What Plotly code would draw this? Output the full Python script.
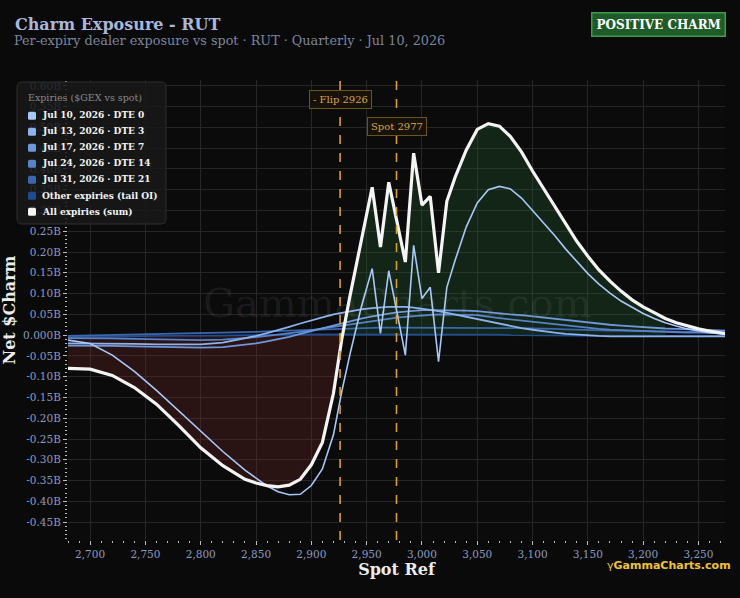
import numpy as np
import plotly.graph_objects as go

# ---------------- data ----------------
SPOT_GRID = [2680, 2700, 2720, 2740, 2760, 2780, 2800, 2820, 2840,
             2850, 2860, 2870, 2880, 2890, 2900, 2910, 2920,
             2927.5, 2935, 2945, 2955, 2962.5, 2970, 2977.5, 2985, 2992.5, 3000, 3007.5, 3015, 3022.5,
             3030, 3040, 3050, 3060, 3070, 3080, 3090, 3100,
             3110, 3120, 3130, 3140, 3150, 3160, 3170, 3180, 3190, 3200,
             3210, 3220, 3230, 3240, 3250, 3260, 3275]

JUL10_DTE0 = [-0.012, -0.020, -0.048, -0.087, -0.133, -0.182, -0.232, -0.280, -0.325,
              -0.345, -0.363, -0.377, -0.384, -0.383, -0.362, -0.322, -0.240,
              -0.136, -0.045, 0.066, 0.160, 0.004, 0.155, 0.054, -0.048, 0.216, 0.088, 0.115, -0.064, 0.115,
              0.180, 0.260, 0.318, 0.350, 0.358, 0.352, 0.330, 0.300,
              0.270, 0.240, 0.207, 0.177, 0.148, 0.123, 0.101, 0.082, 0.066, 0.052,
              0.040, 0.030, 0.022, 0.015, 0.010, 0.006, 0.002]

JUL13_DTE3 = [-0.020, -0.020, -0.021, -0.021, -0.022, -0.022, -0.022, -0.018, -0.008,
              -0.002, 0.005, 0.012, 0.020, 0.028, 0.036, 0.043, 0.050,
              0.054, 0.058, 0.062, 0.065, 0.067, 0.068, 0.068, 0.068, 0.066, 0.064, 0.061, 0.058, 0.054,
              0.050, 0.044, 0.038, 0.033, 0.027, 0.022, 0.017, 0.013,
              0.009, 0.006, 0.003, 0.001, -0.001, -0.002, -0.003, -0.003, -0.003, -0.003,
              -0.003, -0.003, -0.003, -0.003, -0.003, -0.003, -0.003]

JUL17_DTE7 = [-0.025, -0.025, -0.026, -0.027, -0.028, -0.029, -0.030, -0.029, -0.024,
              -0.020, -0.015, -0.010, -0.004, 0.003, 0.010, 0.017, 0.024,
              0.029, 0.034, 0.040, 0.045, 0.049, 0.052, 0.055, 0.057, 0.058, 0.060, 0.060, 0.060, 0.060,
              0.060, 0.059, 0.058, 0.055, 0.053, 0.050, 0.048, 0.045,
              0.042, 0.040, 0.037, 0.034, 0.031, 0.028, 0.025, 0.023, 0.021, 0.019,
              0.017, 0.016, 0.015, 0.014, 0.013, 0.012, 0.011]

JUL24_DTE14 = [-0.007, -0.007, -0.008, -0.009, -0.010, -0.011, -0.012, -0.011, -0.008,
               -0.005, -0.002, 0.001, 0.004, 0.008, 0.012, 0.016, 0.020,
               0.023, 0.026, 0.030, 0.034, 0.037, 0.040, 0.042, 0.044, 0.046, 0.048, 0.049, 0.050, 0.050,
               0.050, 0.049, 0.048, 0.044, 0.041, 0.038, 0.035, 0.032,
               0.029, 0.026, 0.023, 0.020, 0.017, 0.015, 0.013, 0.012, 0.010, 0.009,
               0.008, 0.007, 0.007, 0.006, 0.006, 0.005, 0.004]

JUL31_DTE21 = [-0.002, -0.001, 0.000, 0.001, 0.002, 0.003, 0.004, 0.005, 0.007,
               0.008, 0.009, 0.010, 0.011, 0.012, 0.013, 0.014, 0.015,
               0.016, 0.016, 0.017, 0.017, 0.018, 0.018, 0.018, 0.018, 0.018, 0.018, 0.018, 0.018, 0.018,
               0.018, 0.018, 0.018, 0.018, 0.017, 0.017, 0.017, 0.016,
               0.016, 0.015, 0.014, 0.013, 0.013, 0.012, 0.011, 0.011, 0.010, 0.010,
               0.009, 0.009, 0.008, 0.008, 0.008, 0.007, 0.007]

OTHER_TAIL = [-0.004, -0.004, -0.003, -0.003, -0.002, -0.002, -0.001, -0.001, 0.000,
              0.000, 0.001, 0.001, 0.001, 0.001, 0.002, 0.002, 0.002,
              0.002, 0.002, 0.002, 0.002, 0.002, 0.002, 0.002, 0.002, 0.002, 0.002, 0.002, 0.002, 0.002,
              0.002, 0.001, 0.001, 0.001, 0.001, 0.000, 0.000, 0.000,
              -0.001, -0.001, -0.001, -0.001, -0.002, -0.002, -0.002, -0.002, -0.002, -0.002,
              -0.002, -0.002, -0.002, -0.002, -0.002, -0.002, -0.002]

ALL_SUM = [-0.080, -0.082, -0.097, -0.126, -0.166, -0.217, -0.271, -0.314, -0.347,
           -0.356, -0.362, -0.365, -0.361, -0.347, -0.312, -0.258, -0.140,
           -0.010, 0.095, 0.228, 0.356, 0.212, 0.368, 0.272, 0.176, 0.438, 0.313, 0.334, 0.150, 0.322,
           0.380, 0.445, 0.495, 0.509, 0.503, 0.478, 0.441, 0.395,
           0.353, 0.311, 0.267, 0.226, 0.190, 0.157, 0.130, 0.106, 0.085, 0.068,
           0.054, 0.040, 0.030, 0.022, 0.015, 0.010, 0.003]

SERIES_NAMES = ["Jul 10, 2026 · DTE 0", "Jul 13, 2026 · DTE 3", "Jul 17, 2026 · DTE 7",
                "Jul 24, 2026 · DTE 14", "Jul 31, 2026 · DTE 21", "Other expiries (tail OI)",
                "All expiries (sum)"]
LEGEND_TITLE = "Expiries ($GEX vs spot)"

FLIP_LEVEL = 2926
SPOT_LEVEL = 2977
FILL_END = 3220

X_TICKS = [2700, 2750, 2800, 2850, 2900, 2950, 3000, 3050, 3100, 3150, 3200, 3250]
X_TICK_LABELS = ["2,700", "2,750", "2,800", "2,850", "2,900", "2,950", "3,000",
                 "3,050", "3,100", "3,150", "3,200", "3,250"]
Y_TICKS = [-0.45, -0.40, -0.35, -0.30, -0.25, -0.20, -0.15, -0.10, -0.05, 0.0,
           0.05, 0.10, 0.15, 0.20, 0.25, 0.30, 0.35, 0.40, 0.45, 0.50, 0.55, 0.60]
Y_TICK_LABELS = ["-0.45B", "-0.40B", "-0.35B", "-0.30B", "-0.25B", "-0.20B", "-0.15B",
                 "-0.10B", "-0.05B", "0.000B", "0.05B", "0.10B", "0.15B", "0.20B", "0.25B",
                 "0.30B", "0.35B", "0.40B", "0.45B", "0.50B", "0.55B", "0.60B"]

# ---------------- styling ----------------
SERIF = "DejaVu Serif"
COLORS = ["#a9c8f8", "#8db2ec", "#6f98da", "#5682c8", "#3c67ae", "#1f4b93", "#f4f4f4"]
WIDTHS = [1.6, 1.8, 1.8, 1.8, 1.8, 1.8, 3.2]

L, R, T, B = 68, 15, 80, 58
W, H = 740, 598
PW, PH = W - L - R, H - T - B


def px(xp):
    return (xp - L) / PW


def py(yp):
    return (H - B - yp) / PH


def rounded_rect(x0, y0, x1, y1, r):
    """SVG path in paper coordinates for a pixel-specified rounded rectangle."""
    X0, X1, Y0, Y1 = px(x0), px(x1), py(y0), py(y1)   # Y0 is top
    rx, ry = r / PW, r / PH
    return (f"M {X0 + rx},{Y0} L {X1 - rx},{Y0} Q {X1},{Y0} {X1},{Y0 - ry} "
            f"L {X1},{Y1 + ry} Q {X1},{Y1} {X1 - rx},{Y1} "
            f"L {X0 + rx},{Y1} Q {X0},{Y1} {X0},{Y1 + ry} "
            f"L {X0},{Y0 - ry} Q {X0},{Y0} {X0 + rx},{Y0} Z")


fig = go.Figure()

# fills under the aggregate curve
x = np.array(SPOT_GRID, dtype=float)
s = np.array(ALL_SUM, dtype=float)
i = int(np.where((s[:-1] < 0) & (s[1:] >= 0))[0][0])
xc = x[i] + (0 - s[i]) * (x[i + 1] - x[i]) / (s[i + 1] - s[i])
neg_x = list(x[:i + 1]) + [xc]
neg_y = list(s[:i + 1]) + [0.0]
mask = (x > xc) & (x <= FILL_END)
pos_x = [xc] + list(x[mask])
pos_y = [0.0] + list(s[mask])

fig.add_trace(go.Scatter(x=neg_x, y=neg_y, mode="lines", line=dict(width=0),
                         fill="tozeroy", fillcolor="rgba(115,40,40,0.30)",
                         showlegend=False, hoverinfo="skip"))
fig.add_trace(go.Scatter(x=pos_x, y=pos_y, mode="lines", line=dict(width=0),
                         fill="tozeroy", fillcolor="rgba(40,115,55,0.25)",
                         showlegend=False, hoverinfo="skip"))

all_series = [JUL10_DTE0, JUL13_DTE3, JUL17_DTE7, JUL24_DTE14, JUL31_DTE21, OTHER_TAIL, ALL_SUM]
draw_order = [5, 4, 3, 2, 1, 0, 6]
for k in draw_order:
    fig.add_trace(go.Scatter(x=SPOT_GRID, y=all_series[k], mode="lines",
                             line=dict(color=COLORS[k], width=WIDTHS[k], shape="linear"),
                             name=SERIES_NAMES[k], showlegend=False))

shapes = []
# flip / spot lines
for lvl in (FLIP_LEVEL, SPOT_LEVEL):
    shapes.append(dict(type="line", xref="x", yref="paper", x0=lvl, x1=lvl, y0=0, y1=1,
                       line=dict(color="#d9a030", width=1.6, dash="dash"), layer="above"))

# custom legend box (compact spacing like the reference)
LEG_LEFT, LEG_TOP, LEG_RIGHT, LEG_BOTTOM = 17, 82, 166, 224
shapes.append(dict(type="path", xref="paper", yref="paper",
                   path=rounded_rect(LEG_LEFT, LEG_TOP, LEG_RIGHT, LEG_BOTTOM, 5),
                   fillcolor="rgba(24,24,24,0.86)", line=dict(color="#2e2e2e", width=1),
                   layer="above"))

annotations = []
annotations.append(dict(text=LEGEND_TITLE, x=px(26), y=py(97.7), xref="paper", yref="paper",
                        xanchor="left", yanchor="middle", showarrow=False,
                        font=dict(family=SERIF, size=9.5, color="#8a8a8a")))
for k, name in enumerate(SERIES_NAMES):
    yc = 115.7 + 16.0 * k
    shapes.append(dict(type="path", xref="paper", yref="paper",
                       path=rounded_rect(28, yc - 4, 36, yc + 4, 1.5),
                       fillcolor=COLORS[k], line=dict(width=0), layer="above"))
    annotations.append(dict(text="<b>" + name + "</b>", x=px(40), y=py(yc), xref="paper", yref="paper",
                            xanchor="left", yanchor="middle", showarrow=False,
                            font=dict(family=SERIF, size=9, color="#f4f4f4")))

annotations += [
    dict(text="<b>Charm Exposure - RUT</b>", x=px(13), y=py(24), xref="paper", yref="paper",
         xanchor="left", yanchor="middle", showarrow=False,
         font=dict(family=SERIF, size=16, color="#a9b8da")),
    dict(text="Per-expiry dealer exposure vs spot · RUT · Quarterly · Jul 10, 2026",
         x=px(12), y=py(41), xref="paper", yref="paper", xanchor="left", yanchor="middle",
         showarrow=False, font=dict(family=SERIF, size=12.8, color="#7a869e")),
    dict(text="<b>POSITIVE CHARM</b>", x=px(658), y=py(24.5), xref="paper", yref="paper",
         xanchor="center", yanchor="middle", showarrow=False,
         font=dict(family=SERIF, size=12, color="#ffffff"),
         bgcolor="#1f5a29", bordercolor="#3d9b4b", borderwidth=1.5, borderpad=4),
    dict(text="GammaCharts.com", x=px(397), y=py(303), xref="paper", yref="paper",
         xanchor="center", yanchor="middle", showarrow=False,
         font=dict(family=SERIF, size=40, color="rgba(255,255,255,0.07)")),
    dict(text="γ<b>GammaCharts.com</b>", x=px(733), y=py(565), xref="paper", yref="paper",
         xanchor="right", yanchor="middle", showarrow=False,
         font=dict(family="DejaVu Sans", size=11, color="#f0c23a")),
    dict(text="- Flip " + str(FLIP_LEVEL), x=FLIP_LEVEL, y=py(100), xref="x", yref="paper",
         xanchor="center", yanchor="middle", showarrow=False,
         font=dict(family=SERIF, size=10, color="#d8a53e"),
         bgcolor="#16120a", bordercolor="#6a5420", borderwidth=1, borderpad=3),
    dict(text="Spot " + str(SPOT_LEVEL), x=SPOT_LEVEL, y=py(126), xref="x", yref="paper",
         xanchor="center", yanchor="middle", showarrow=False,
         font=dict(family=SERIF, size=10, color="#d8a53e"),
         bgcolor="#16120a", bordercolor="#6a5420", borderwidth=1, borderpad=3),
]

fig.update_layout(
    width=W, height=H, autosize=False,
    margin=dict(l=L, r=R, t=T, b=B, autoexpand=False),
    paper_bgcolor="#0a0a0a", plot_bgcolor="#0b0b0b",
    font=dict(family=SERIF, size=10.5, color="#8a9bc2"),
    showlegend=False,
    shapes=shapes,
    annotations=annotations,
    xaxis=dict(range=[2680, 3274], tickmode="array", tickvals=X_TICKS, ticktext=X_TICK_LABELS,
               ticks="outside", ticklen=4, tickcolor="#bdbdbd", tickwidth=1,
               showgrid=True, gridcolor="#262626", gridwidth=1, zeroline=False, showline=False,
               tickfont=dict(family=SERIF, size=10.5, color="#8a9bc2"),
               minor=dict(ticks="outside", ticklen=2, tickcolor="#bdbdbd", dtick=10, tick0=2700, showgrid=False),
               title=dict(text="<b>Spot Ref</b>", font=dict(family=SERIF, size=16, color="#ececec"), standoff=5)),
    yaxis=dict(range=[-0.493, 0.614], tickmode="array", tickvals=Y_TICKS, ticktext=Y_TICK_LABELS,
               ticks="outside", ticklen=4, tickcolor="#bdbdbd", tickwidth=1,
               showgrid=True, gridcolor="#262626", gridwidth=1, zeroline=False, showline=False,
               tickfont=dict(family=SERIF, size=10.5, color="#8a9bc2"),
               minor=dict(ticks="outside", ticklen=2, tickcolor="#bdbdbd", dtick=0.01, tick0=0, showgrid=False),
               title=dict(text="<b>Net $Charm</b>", font=dict(family=SERIF, size=16, color="#ececec"), standoff=4)),
)

fig.write_html("out.html")
